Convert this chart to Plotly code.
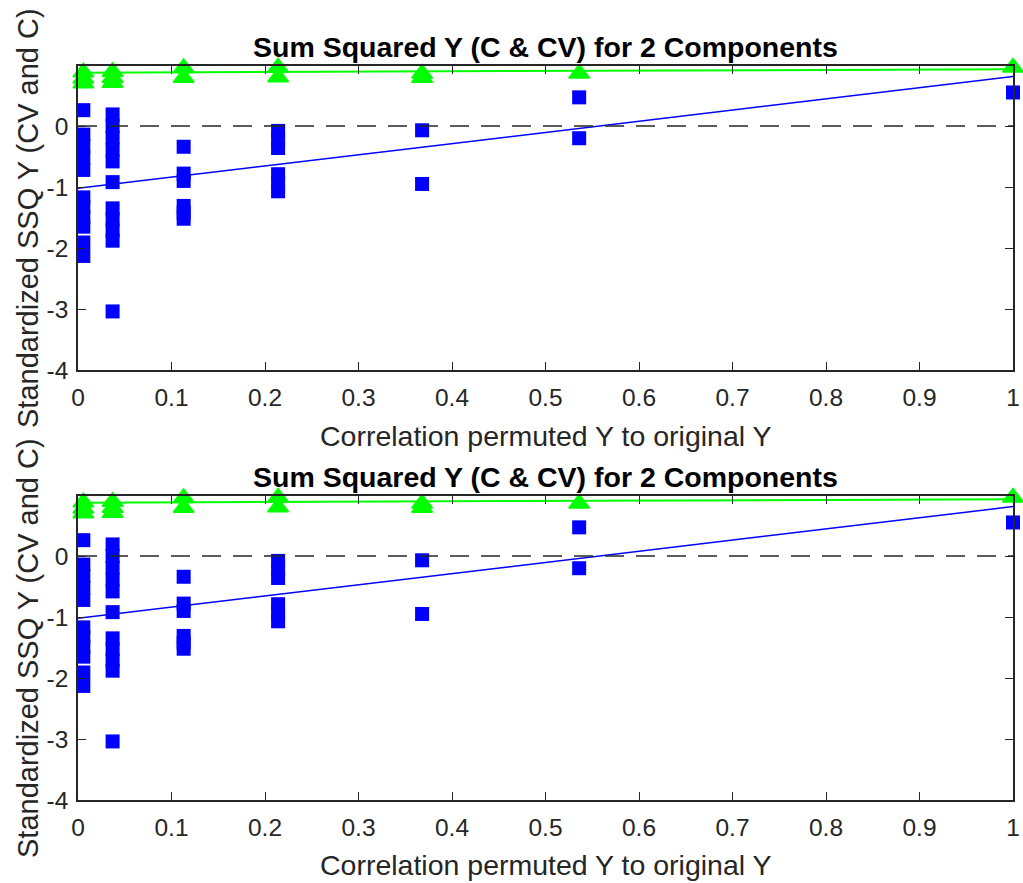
import plotly.graph_objects as go

# ---- data ----
# cross-validated (CV) standardized SSQ Y, blue squares
cv_x = [0.0057]*11 + [0.037]*11 + [0.113]*6 + [0.214]*6 + [0.368]*2 + [0.536]*2 + [1.0]
cv_y = [0.26, -0.14, -0.33, -0.52, -0.72, -1.17, -1.33, -1.49, -1.65, -1.91, -2.13,
        0.19, 0.0, -0.19, -0.39, -0.58, -0.92, -1.35, -1.53, -1.71, -1.88, -3.04,
        -0.34, -0.78, -0.90, -1.31, -1.42, -1.52,
        -0.08, -0.22, -0.36, -0.79, -0.93, -1.07,
        -0.07, -0.95,
        0.47, -0.20,
        0.55]
# calibrated (C) standardized SSQ Y, green triangles
c_x = [0.0057]*4 + [0.037]*4 + [0.113]*2 + [0.214]*2 + [0.368]*2 + [0.536]*2 + [1.0]
c_y = [0.99, 0.88, 0.78, 0.70,
       0.99, 0.89, 0.79, 0.71,
       0.95, 0.79,
       0.96, 0.80,
       0.86, 0.79,
       0.99, 0.86,
       0.96]
# regression lines
fit_x = [0.0, 1.0]
fit_cv = [-1.02, 0.81]
fit_c = [0.875, 0.93]
ref_x = [0.0, 1.0]
ref_y = [0.0, 0.0]

x_ticks = [0, 0.1, 0.2, 0.3, 0.4, 0.5, 0.6, 0.7, 0.8, 0.9, 1]
x_tick_text = ["0", "0.1", "0.2", "0.3", "0.4", "0.5", "0.6", "0.7", "0.8", "0.9", "1"]
y_ticks = [-4, -3, -2, -1, 0]
y_tick_text = ["-4", "-3", "-2", "-1", "0"]

title_text = "Sum Squared Y (C & CV) for 2 Components"
x_title = "Correlation permuted Y to original Y"
y_title = "Standardized SSQ Y (CV and C)"

FONT = "Liberation Sans, Arial, Helvetica, sans-serif"
AX = "#262626"
W, H = 1023, 883

fig = go.Figure()

for sfx in ["", "2"]:
    xa = "x" + sfx
    ya = "y" + sfx
    fig.add_trace(go.Scatter(x=cv_x, y=cv_y, mode="markers", xaxis=xa, yaxis=ya,
                             marker=dict(symbol="square", size=14, color="#0000FF",
                                         line=dict(width=0)),
                             cliponaxis=False, showlegend=False))
    fig.add_trace(go.Scatter(x=c_x, y=c_y, mode="markers", xaxis=xa, yaxis=ya,
                             marker=dict(symbol="triangle-up", size=18, color="#00FF00",
                                         line=dict(width=1.5, color="#00FF00")),
                             cliponaxis=False, showlegend=False))
    fig.add_trace(go.Scatter(x=fit_x, y=fit_c, mode="lines", xaxis=xa, yaxis=ya,
                             line=dict(color="#00FF00", width=2),
                             cliponaxis=False, showlegend=False))
    fig.add_trace(go.Scatter(x=fit_x, y=fit_cv, mode="lines", xaxis=xa, yaxis=ya,
                             line=dict(color="#0000FF", width=1.5),
                             cliponaxis=False, showlegend=False))
    fig.add_trace(go.Scatter(x=ref_x, y=ref_y, mode="lines", xaxis=xa, yaxis=ya,
                             line=dict(color="#262626", width=1.5, dash="19px,12px"),
                             showlegend=False))

# plot area pixel positions
x0, x1 = 78, 1013
panels = [("", 66, 370, 47, 436), ("2", 496, 800, 477, 865)]

axis_common = dict(showline=True, linecolor=AX, linewidth=1.5, mirror="ticks",
                   ticks="inside", ticklen=8, tickwidth=1, tickcolor=AX,
                   showgrid=False, zeroline=False,
                   tickfont=dict(family=FONT, size=24.5, color=AX), automargin=False)

layout = dict(width=W, height=H, margin=dict(l=0, r=0, t=0, b=0),
              paper_bgcolor="white", plot_bgcolor="white", showlegend=False)

annotations = []
for sfx, t, b, ty, xty in panels:
    layout["xaxis" + sfx] = dict(axis_common, domain=[x0 / W, x1 / W], range=[0, 1],
                                 tickvals=x_ticks, ticktext=x_tick_text,
                                 anchor="y" + sfx, ticklabelstandoff=5)
    layout["yaxis" + sfx] = dict(axis_common, domain=[1 - b / H, 1 - t / H], range=[-4, 0.984],
                                 tickvals=y_ticks, ticktext=y_tick_text,
                                 anchor="x" + sfx, ticklabelstandoff=3)
    annotations.append(dict(text="<b>" + title_text + "</b>", xref="paper", yref="paper",
                            x=(x0 + x1) / 2 / W, y=1 - ty / H, showarrow=False,
                            xanchor="center", yanchor="middle",
                            font=dict(family=FONT, size=28.5, color="black")))
    annotations.append(dict(text=x_title, xref="paper", yref="paper",
                            x=(x0 + x1) / 2 / W, y=1 - xty / H, showarrow=False,
                            xanchor="center", yanchor="middle",
                            font=dict(family=FONT, size=28.5, color=AX)))
    annotations.append(dict(text=y_title, xref="paper", yref="paper", textangle=-90,
                            x=28 / W, y=1 - (t + b) / 2 / H, showarrow=False,
                            xanchor="center", yanchor="middle",
                            font=dict(family=FONT, size=29, color=AX)))

layout["annotations"] = annotations
fig.update_layout(**layout)

fig.write_html("out.html")
